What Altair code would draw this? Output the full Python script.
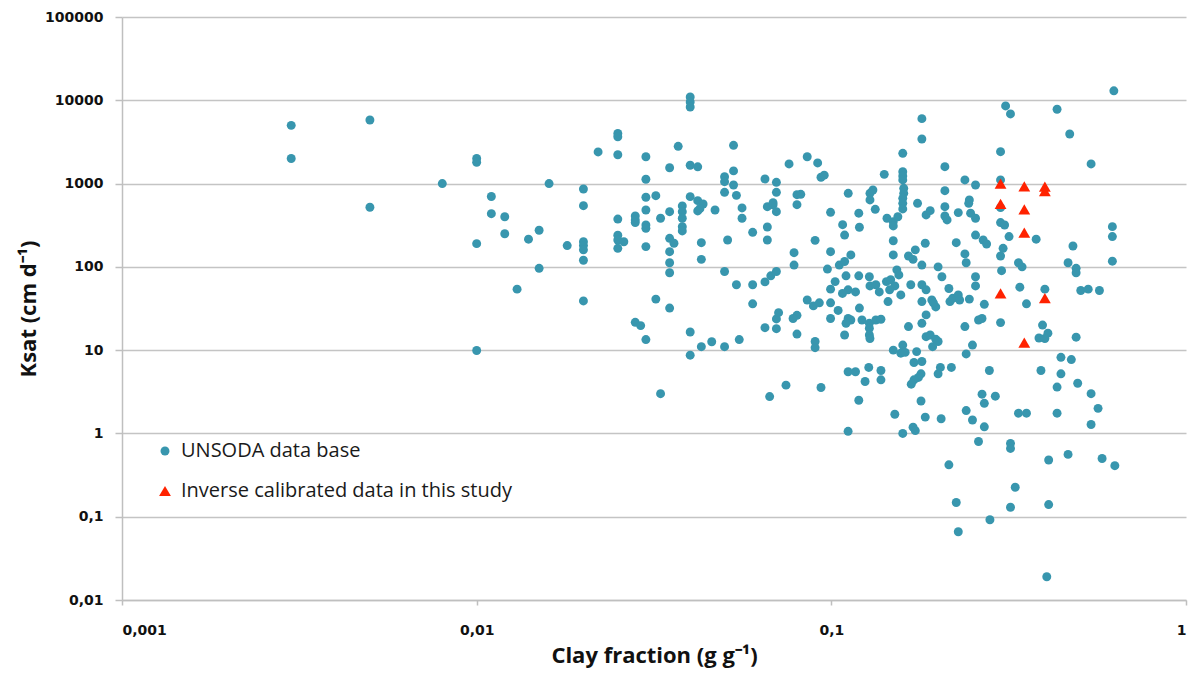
import altair as alt
import pandas as pd

# UNSODA data base (clay fraction g/g, Ksat cm/d)
unsoda_clay = [
    0.003, 0.003, 0.005, 0.005, 0.008, 0.01, 0.01, 0.011, 0.011, 0.012,
    0.012, 0.01, 0.014, 0.015, 0.016, 0.015, 0.013, 0.01, 0.018, 0.02,
    0.02, 0.02, 0.02, 0.02, 0.02, 0.02, 0.022, 0.025, 0.025, 0.025,
    0.025, 0.025, 0.025, 0.026, 0.025,
    0.03, 0.037, 0.035, 0.04, 0.042, 0.053, 0.053, 0.05, 0.05, 0.053,
    0.05, 0.054, 0.076, 0.065, 0.07, 0.07, 0.08, 0.03, 0.03, 0.032,
    0.03, 0.03, 0.03, 0.03, 0.028, 0.028, 0.028, 0.033, 0.035, 0.038,
    0.038, 0.038, 0.038, 0.038, 0.04, 0.042, 0.0435, 0.042, 0.0426, 0.047,
    0.056, 0.056, 0.06, 0.066, 0.0685, 0.07, 0.0685, 0.066, 0.066, 0.08,
    0.035, 0.036, 0.035, 0.035, 0.035, 0.043, 0.043, 0.051, 0.05, 0.054,
    0.06, 0.06, 0.065, 0.0675, 0.07, 0.0785, 0.0785, 0.032, 0.035, 0.028,
    0.029, 0.03, 0.04, 0.04, 0.043, 0.046, 0.05, 0.055, 0.065, 0.07,
    0.07, 0.071, 0.08, 0.08, 0.033, 0.067, 0.0745, 0.04, 0.04, 0.04,
    0.18, 0.18, 0.159, 0.159, 0.159, 0.159, 0.16, 0.16, 0.159, 0.159,
    0.159, 0.141, 0.131, 0.1285, 0.1285, 0.133, 0.209, 0.209, 0.209, 0.209,
    0.212, 0.238, 0.255, 0.245, 0.244, 0.228, 0.247, 0.255, 0.255, 0.225,
    0.238, 0.24, 0.255, 0.245, 0.238, 0.0855, 0.0915, 0.0935, 0.0955, 0.082,
    0.1116, 0.0995, 0.1195, 0.1076, 0.109, 0.12, 0.1435, 0.1495, 0.154, 0.1495,
    0.175, 0.185, 0.19, 0.09, 0.0995, 0.1495, 0.1495, 0.184, 0.1725, 0.165,
    0.17, 0.18, 0.1135, 0.1053, 0.109, 0.0975, 0.2, 0.205, 0.153, 0.155,
    0.11, 0.1195, 0.128, 0.1285, 0.1025, 0.0995, 0.1115, 0.1075, 0.117, 0.1335,
    0.1365, 0.143, 0.147, 0.151, 0.146, 0.157, 0.1675, 0.18, 0.185, 0.197,
    0.192, 0.194, 0.18, 0.185, 0.18, 0.2145, 0.216, 0.22, 0.228, 0.23,
    0.0855, 0.089, 0.0925, 0.0995, 0.1045, 0.0995, 0.12, 0.1115, 0.1135, 0.11,
    0.122, 0.128, 0.1335, 0.138, 0.128, 0.128, 0.1445, 0.165, 0.078, 0.109,
    0.185, 0.26,
    0.09, 0.09, 0.0935, 0.1115, 0.117, 0.1275, 0.138, 0.138, 0.1245, 0.1195,
    0.1115, 0.1495, 0.159, 0.157, 0.1615, 0.174, 0.171, 0.18, 0.179, 0.176,
    0.171, 0.168, 0.203, 0.2, 0.218, 0.179, 0.151, 0.184, 0.204, 0.159,
    0.17, 0.1725, 0.24, 0.25, 0.26, 0.2145, 0.225, 0.228, 0.25, 0.24,
    0.19, 0.197, 0.2, 0.193, 0.1285,
    0.626, 0.31, 0.32, 0.433, 0.47, 0.54, 0.3, 0.3, 0.3, 0.3,
    0.308, 0.317, 0.378, 0.268, 0.274, 0.305, 0.3, 0.337, 0.345, 0.302,
    0.48, 0.62, 0.62, 0.62, 0.465, 0.49, 0.49, 0.27, 0.34, 0.355,
    0.4, 0.505, 0.53, 0.57, 0.266, 0.3, 0.394, 0.408, 0.385, 0.49,
    0.4,
    0.279, 0.39, 0.444, 0.475, 0.444, 0.433, 0.495, 0.54, 0.565, 0.54,
    0.266, 0.27, 0.29, 0.27, 0.337, 0.355, 0.433, 0.32, 0.32, 0.41,
    0.465, 0.58, 0.63, 0.33, 0.32, 0.41, 0.28, 0.405, 0.255,
]
unsoda_ksat = [
    5000, 2000, 5800, 520, 1000, 2000, 1800, 700, 435, 400,
    250, 190, 215, 275, 1000, 96, 54, 9.9, 180, 860,
    543, 200, 180, 160, 120, 39, 2400, 4000, 3650, 2220,
    375, 240, 210, 200, 167,
    2100, 2800, 1550, 1660, 1590, 2880, 1420, 1210, 1054, 962,
    785, 722, 1720, 1135, 1035, 785, 736, 1126, 685, 716,
    482, 318, 290, 175, 408, 366, 340, 383, 460, 539,
    460, 383, 304, 270, 697, 624, 569, 469, 500, 482,
    510, 383, 260, 528, 554, 460, 590, 301, 210, 558,
    220, 192, 152, 112, 85, 195, 123, 210, 88, 61,
    61, 36, 66, 78, 88, 148, 105, 41, 32, 21.6,
    19.7, 13.4, 16.5, 8.7, 11, 12.6, 11, 13.4, 18.6, 18.1,
    23.7, 28.2, 26.2, 15.6, 3.0, 2.77, 3.8, 10960, 9550, 8310,
    6020, 3430, 2310, 1390, 1235, 1105, 877, 764, 665, 579,
    496, 1290, 838, 764, 636, 491, 1596, 822, 528, 408,
    366, 1105, 962, 636, 579, 448, 441, 383, 241, 195,
    143, 112, 76, 41, 19.2, 2100, 1770, 1190, 1260, 743,
    764, 452, 441, 321, 241, 299, 383, 349, 400, 310,
    579, 420, 473, 208, 152, 206, 139, 192, 160, 135,
    123, 105, 139, 105, 116, 94, 100, 76, 92, 80,
    78, 78, 76, 59, 66.5, 54, 53, 48, 50, 61,
    50, 66.5, 70, 59, 53, 46, 61, 61, 53, 33,
    40, 37, 38.3, 26.5, 21, 55, 38.3, 42, 46, 40,
    40, 34, 37, 37, 30, 24, 32, 24, 23, 21,
    23, 21, 23, 23.5, 18.3, 15.2, 38.3, 19.2, 24, 15.2,
    14.5, 23,
    12.7, 10.7, 3.56, 5.5, 5.5, 6.2, 5.7, 4.4, 4.2, 2.5,
    1.06, 10, 11.5, 9.2, 9.4, 9.6, 7.1, 7.3, 5.2, 4.7,
    4.4, 3.9, 6.2, 5.2, 6.2, 2.45, 1.7, 1.57, 1.5, 1.0,
    1.19, 1.08, 1.88, 1.45, 0.8, 0.42, 0.148, 0.066, 11.5, 9.0,
    15.2, 13.5, 12.7, 11, 13.8,
    13000, 8550, 6860, 7800, 3940, 1720, 2415, 1105, 514, 340,
    318, 231, 215, 210, 188, 167, 135, 112, 100, 90,
    178, 304, 231, 117, 112, 96, 85, 35.5, 57, 36,
    54, 52, 54, 52, 24, 21.4, 20, 16, 14, 14.3,
    13.8,
    5.7, 5.7, 8.2, 7.7, 5.2, 3.6, 4.0, 3.0, 2.0, 1.28,
    2.96, 2.3, 2.8, 1.2, 1.75, 1.75, 1.75, 0.76, 0.66, 0.48,
    0.56, 0.5, 0.41, 0.226, 0.13, 0.14, 0.092, 0.019, 59,
]

# Inverse calibrated data in this study
study_clay = [0.3, 0.35, 0.4, 0.4, 0.3, 0.35, 0.35, 0.3, 0.4, 0.35]
study_ksat = [1000, 925, 920, 810, 570, 490, 258, 48, 42, 12.3]

series_names = ["UNSODA data base", "Inverse calibrated data in this study"]
series_colors = ["#3896AE", "#FF2200"]
series_shapes = ["circle", "triangle-up"]
series_sizes = [80, 140]

y_ticks = [0.01, 0.1, 1, 10, 100, 1000, 10000, 100000]
x_ticks = [0.001, 0.01, 0.1, 1]

assert len(unsoda_clay) == len(unsoda_ksat)

df = pd.DataFrame({
    "clay": unsoda_clay + study_clay,
    "ksat": unsoda_ksat + study_ksat,
    "series": [series_names[0]] * len(unsoda_clay) + [series_names[1]] * len(study_clay),
})

label_expr = "replace(toString(datum.value), '.', ',')"

legend = alt.Legend(
    title=None, orient="none", legendX=33, legendY=424,
    labelFont="Open Sans", labelFontSize=20, labelColor="#1a1a1a", labelLimit=0,
    rowPadding=20, padding=0, symbolStrokeWidth=0, labelOffset=6,
)

chart = alt.Chart(df).mark_point(filled=True, opacity=1, strokeWidth=0).encode(
    x=alt.X("clay:Q",
            scale=alt.Scale(type="log", domain=[0.001, 1], nice=False),
            axis=alt.Axis(values=x_ticks, title="Clay fraction (g g⁻¹)", grid=False,
                          labelExpr=label_expr, tickSize=5, labelPadding=18,
                          titlePadding=8)),
    y=alt.Y("ksat:Q",
            scale=alt.Scale(type="log", domain=[0.01, 100000], nice=False),
            axis=alt.Axis(values=y_ticks, title="Ksat (cm d⁻¹)", grid=True,
                          labelExpr=label_expr, tickSize=7, labelPadding=12,
                          titlePadding=4)),
    color=alt.Color("series:N", scale=alt.Scale(domain=series_names, range=series_colors), legend=legend),
    shape=alt.Shape("series:N", scale=alt.Scale(domain=series_names, range=series_shapes), legend=legend),
    size=alt.Size("series:N", scale=alt.Scale(domain=series_names, range=series_sizes), legend=legend),
).properties(
    width=1064, height=583,
    autosize=alt.AutoSizeParams(type="none"),
    padding={"left": 122, "top": 17, "right": 6, "bottom": 75},
).configure_view(
    strokeWidth=0
).configure_axis(
    labelFont="DejaVu Sans", labelFontWeight="bold", labelFontSize=14, labelColor="#111",
    titleFont="Open Sans", titleFontWeight="bold", titleFontSize=22, titleColor="#111",
    domainColor="#BFBFBF", domainWidth=1.5, tickColor="#BFBFBF", tickWidth=1.5,
    gridColor="#C4C4C4", gridWidth=1.5,
)

chart.save("out.html", embed_options={"renderer": "svg", "actions": False})
